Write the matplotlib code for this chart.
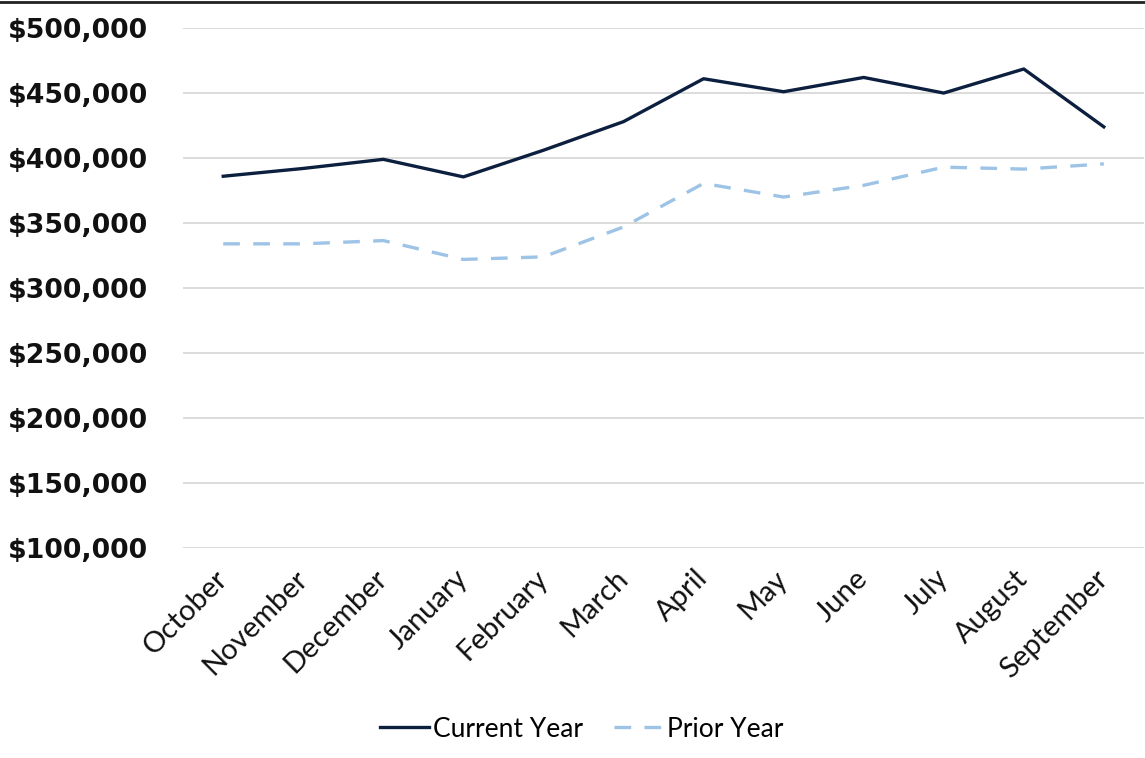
import matplotlib.pyplot as plt
from matplotlib.ticker import FuncFormatter
from matplotlib.lines import Line2D

months = ["October", "November", "December", "January", "February", "March",
          "April", "May", "June", "July", "August", "September"]
current_year = [386000, 392000, 399000, 385500, 406000, 428000,
                461000, 451000, 462000, 450000, 468500, 424000]
prior_year = [334000, 334000, 336500, 322000, 324000, 347000,
              380500, 370000, 379000, 393000, 391500, 395500]

navy = "#0c1f3f"
light_blue = "#9dc3e6"

fig = plt.figure(figsize=(11.45, 7.58), dpi=100)
ax = fig.add_axes([0.16, 0.277, 0.839, 0.686])

x = range(len(months))
ax.plot(x, current_year, color=navy, linewidth=2.4, label="Current Year")
ax.plot(x, prior_year, color=light_blue, linewidth=2.4, dashes=(5, 4),
        label="Prior Year")

ax.set_xlim(-0.5, len(months) - 0.5)
ax.set_ylim(100000, 500000)
ax.set_yticks(range(100000, 500001, 50000))
ax.yaxis.set_major_formatter(FuncFormatter(lambda v, p: "${:,.0f}".format(v)))
ax.grid(axis="y", color="#d9d9d9", linewidth=1.3)
ax.set_axisbelow(True)
for s in ax.spines.values():
    s.set_visible(False)
ax.tick_params(length=0)
ax.tick_params(axis="y", pad=25)

for lab in ax.get_yticklabels():
    lab.set_fontfamily("DejaVu Sans")
    lab.set_fontweight("bold")
    lab.set_fontsize(19.3)
    lab.set_color("#111111")

ax.set_xticks(list(x))
ax.set_xticklabels(months, rotation=45, ha="right", va="center",
                   rotation_mode="anchor", fontsize=21, family="Lato",
                   color="#111111")
ax.tick_params(axis="x", pad=19)

handles = [Line2D([], [], color=navy, linewidth=2.4),
           Line2D([], [], color=light_blue, linewidth=2.4, dashes=(5, 4))]
fig.legend(handles, ["Current Year", "Prior Year"], loc="center",
           bbox_to_anchor=(0.508, 0.038), ncol=2, frameon=False,
           prop={"family": "Lato", "size": 19},
           handlelength=1.85, handletextpad=0.15, columnspacing=1.2)

# thin dark border across the top
fig.add_artist(Line2D([0, 1], [0.998, 0.998], transform=fig.transFigure,
                      color="#222222", linewidth=2))

fig.savefig("out.png", dpi=100)
